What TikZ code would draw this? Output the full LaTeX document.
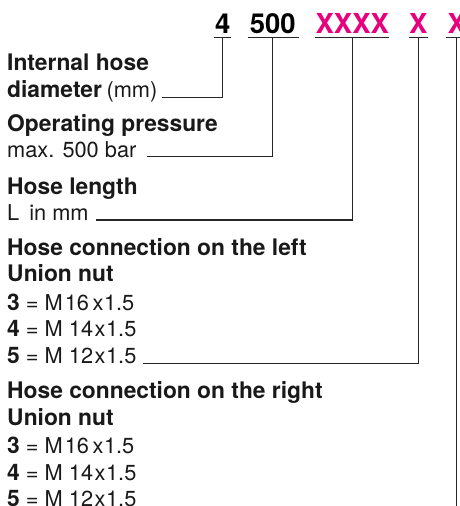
\documentclass[tikz,border=0pt]{standalone}
\usepackage{fontspec}
\setmainfont{TeX Gyre Heros}
\definecolor{codepink}{RGB}{230,0,126}
\definecolor{txt}{RGB}{25,25,25}
\newcommand\bftxt[1]{{\fontsize{22.8}{22.8}\selectfont\bfseries #1}}
\tikzset{
  code/.style={anchor=base, inner sep=0pt, font=\fontsize{27.5}{27.5}\selectfont\bfseries},
  lbl/.style={anchor=base west, inner sep=0pt, text=txt, font=\fontsize{21.8}{21.8}\selectfont},
  leader/.style={draw=black!85, line width=1.2pt},
  uline/.style={draw=black!85, line width=1.2pt}
}
\begin{document}
\begin{tikzpicture}[x=1pt,y=-1pt]
\clip (0,0) rectangle (460,506);
% code heads
\node[code] (c1) at (222.7,33) {4};
\node[code] (c2) at (272.7,33) {500};
\node[code, text=codepink] (c3) at (352.3,33) {XXXX};
\node[code, text=codepink] (c4) at (418.3,33) {X};
\node[code, text=codepink] (c5) at (456.7,33) {X};
% underlines
\draw[uline] ([xshift=-0.5pt,yshift=-4.3pt]c1.base west) -- ([xshift=0.5pt,yshift=-4.3pt]c1.base east);
\draw[uline] ([xshift=-2pt,yshift=-4.3pt]c2.base west) -- ([xshift=3pt,yshift=-4.3pt]c2.base east);
\draw[uline] ([xshift=0pt,yshift=-4.3pt]c3.base west) -- ([xshift=0pt,yshift=-4.3pt]c3.base east);
\draw[uline] ([xshift=0pt,yshift=-4.3pt]c4.base west) -- ([xshift=0pt,yshift=-4.3pt]c4.base east);
\draw[uline] ([xshift=-1pt,yshift=-4.3pt]c5.base west) -- ([xshift=4pt,yshift=-4.3pt]c5.base east);
\coordinate (u1) at ([yshift=-4.3pt]c1.base);
\coordinate (u2) at ([yshift=-4.3pt]c2.base);
\coordinate (u3) at ([yshift=-4.3pt]c3.base);
\coordinate (u4) at ([yshift=-4.3pt]c4.base);
\coordinate (u5) at ([yshift=-4.3pt]c5.base);
% labels
\node[lbl] (t1a) at (7,70) {\bftxt{Internal hose}};
\node[lbl] (t1b) at (7,97.3) {\bftxt{diameter}\hspace{4.5pt}(mm)};
\node[lbl] (t2a) at (7,131) {\bftxt{Operating pressure}};
\node[lbl] (t2b) at (7,157.7) {max. 500 bar};
\node[lbl] (t3a) at (7,194) {\bftxt{Hose length}};
\node[lbl] (t3b) at (7,220.7) {L\hspace{10pt}in mm};
\node[lbl] (t4a) at (7,255) {\bftxt{Hose connection on the left}};
\node[lbl] (t4b) at (7,281.7) {\bftxt{Union nut}};
\node[lbl] (t4c) at (7,310) {\bftxt{3} = M\kern2pt16\kern3.5pt x\kern0.5pt{}1.5};
\node[lbl] (t4d) at (7,336.7) {\bftxt{4} = M 14\kern1.5pt x\kern0.5pt{}1.5};
\node[lbl] (t4e) at (7,363.3) {\bftxt{5} = M 12\kern1.5pt x\kern0.5pt{}1.5};
\node[lbl] (t5a) at (7,398.3) {\bftxt{Hose connection on the right}};
\node[lbl] (t5b) at (7,425) {\bftxt{Union nut}};
\node[lbl] (t5c) at (7,453.3) {\bftxt{3} = M\kern2pt16\kern3.5pt x\kern0.5pt{}1.5};
\node[lbl] (t5d) at (7,480) {\bftxt{4} = M 14\kern1.5pt x\kern0.5pt{}1.5};
\node[lbl] (t5e) at (7,506.7) {\bftxt{5} = M 12\kern1.5pt x\kern0.5pt{}1.5};
% leader starts
\coordinate (l1) at (162,97.3);
\coordinate (l2) at (147,156.7);
\coordinate (l3) at (96,220);
\coordinate (l4) at (142.7,363.3);
\coordinate (l5) at (456.7,530);
% connectors
\draw[leader] (l1) -| (u1);
\draw[leader] (l2) -| (u2);
\draw[leader] (l3) -| (u3);
\draw[leader] (l4) -| (u4);
\draw[leader] (u5) -- (l5);
\end{tikzpicture}
\end{document}
